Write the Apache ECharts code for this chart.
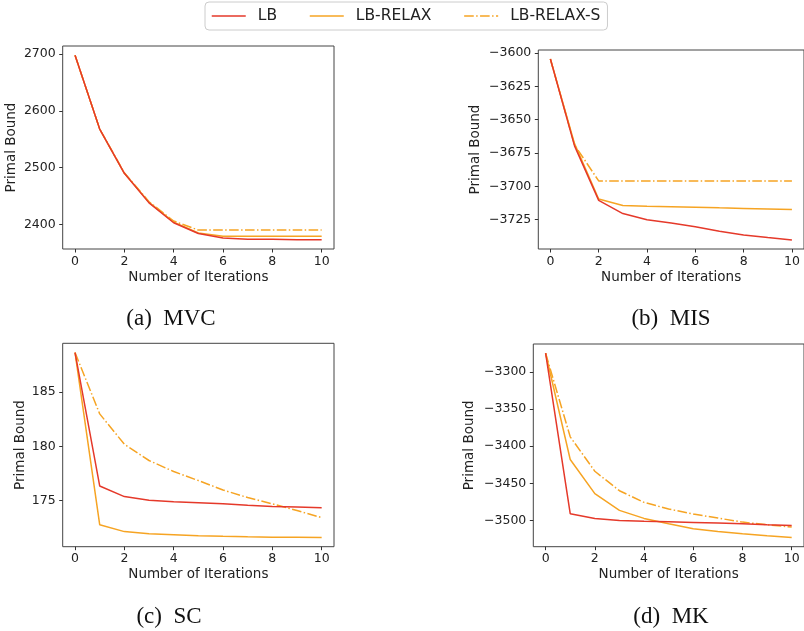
<!DOCTYPE html>
<html><head><meta charset="utf-8">
<script src="https://cdn.jsdelivr.net/npm/echarts@6/dist/echarts.min.js"></script>
<style>html,body{margin:0;padding:0;background:#fff}#c{width:804px;height:631px}</style>
</head><body><div id="c"></div>
<script>
const iterations = [0,1,2,3,4,5,6,7,8,9,10];
const seriesNames = ['LB','LB-RELAX','LB-RELAX-S'];

const mvcLB      = [2698,2568,2490,2438,2403,2384,2376,2374,2374,2373,2373];
const mvcRelax   = [2698,2568,2490,2439,2404,2385,2379,2379,2379,2379,2379];
const mvcRelaxS  = [2698,2568,2491,2440,2406,2390,2390,2390,2390,2390,2390];

const misLB      = [-3604.5,-3669.7,-3710.6,-3720.5,-3725.2,-3727.6,-3730.4,-3733.8,-3736.5,-3738.5,-3740.3];
const misRelax   = [-3604.5,-3668,-3709.6,-3714.5,-3715,-3715.3,-3715.7,-3716.2,-3716.6,-3717,-3717.5];
const misRelaxS  = [-3604.5,-3669,-3696,-3696,-3696,-3696,-3696,-3696,-3696,-3696,-3696];

const scLB       = [188.66,176.35,175.37,175.03,174.9,174.8,174.7,174.57,174.45,174.4,174.35];
const scRelax    = [188.66,172.78,172.14,171.95,171.86,171.75,171.7,171.66,171.63,171.62,171.6];
const scRelaxS   = [188.66,183.0,180.2,178.7,177.68,176.85,175.98,175.28,174.7,174.08,173.43];

const mkLB       = [-3274.8,-3491,-3497.3,-3500,-3501,-3501.8,-3502.7,-3503.6,-3504.5,-3505.9,-3506.8];
const mkRelax    = [-3274.8,-3418,-3464,-3486.5,-3497.3,-3504.5,-3511.3,-3514.9,-3518,-3520.7,-3523];
const mkRelaxS   = [-3274.8,-3387.4,-3433.8,-3460,-3475.7,-3484.7,-3491.4,-3496.8,-3502.3,-3505.9,-3509];

const xTicks   = [0,2,4,6,8,10];
const mvcTicks = [2400,2500,2600,2700];
const misTicks = [-3725,-3700,-3675,-3650,-3625,-3600];
const scTicks  = [175,180,185];
const mkTicks  = [-3500,-3450,-3400,-3350,-3300];

const captions = ['(a)\u2002MVC','(b)\u2002MIS','(c)\u2002SC','(d)\u2002MK'];
const xName = 'Number of Iterations';
const yName = 'Primal Bound';

const RED = '#e5392a', ORANGE = '#f6a423';
const panels = [
  {data:[mvcLB,mvcRelax,mvcRelaxS], ticks:mvcTicks, grid:{left:62.7,top:46,width:271.3,height:203}, yGap:44, cap:[171,319]},
  {data:[misLB,misRelax,misRelaxS], ticks:misTicks, grid:{left:538.3,top:50,width:268.2,height:199}, yGap:55.6, cap:[671,319]},
  {data:[scLB,scRelax,scRelaxS], ticks:scTicks, grid:{left:62.7,top:343.3,width:271.3,height:203.4}, yGap:35, cap:[169,617]},
  {data:[mkLB,mkRelax,mkRelaxS], ticks:mkTicks, grid:{left:533.3,top:344,width:271.7,height:202.7}, yGap:56.6, cap:[671,617]}
];

const fmt = v => String(v).replace('-', '\u2212');
const axisFont = {fontFamily:'DejaVu Sans', fontSize:12.5, color:'#222'};
const grids=[], xAxes=[], yAxes=[], series=[];
panels.forEach((p,i)=>{
  grids.push(Object.assign({show:true, borderColor:'#444', borderWidth:1, backgroundColor:'#fff'}, p.grid));
  const all = [].concat(...p.data);
  const lo = Math.min(...all), hi = Math.max(...all), m = (hi-lo)*0.05;
  xAxes.push({type:'value', gridIndex:i, min:-0.5, max:10.5, position:'bottom',
    axisLine:{show:false, onZero:false}, splitLine:{show:false},
    axisTick:{show:true, inside:false, length:3.5, lineStyle:{color:'#333', width:1}, customValues:xTicks},
    axisLabel:Object.assign({customValues:xTicks, margin:6, formatter:fmt}, axisFont),
    name:xName, nameLocation:'middle', nameGap:21,
    nameTextStyle:{fontFamily:'DejaVu Sans', fontSize:13.5, color:'#222'}});
  yAxes.push({type:'value', gridIndex:i, min:lo-m, max:hi+m, position:'left',
    axisLine:{show:false, onZero:false}, splitLine:{show:false},
    axisTick:{show:true, inside:false, length:3.5, lineStyle:{color:'#333', width:1}, customValues:p.ticks},
    axisLabel:Object.assign({customValues:p.ticks, margin:7, formatter:fmt}, axisFont),
    name:yName, nameLocation:'middle', nameGap:p.yGap,
    nameTextStyle:{fontFamily:'DejaVu Sans', fontSize:13.5, color:'#222'}});
  const styles = [
    {color:RED, width:1.5, type:'solid', z:5},
    {color:ORANGE, width:1.5, type:'solid', z:3},
    {color:ORANGE, width:1.5, type:[9.6,2.4,1.5,2.4], z:4}
  ];
  p.data.forEach((d,k)=>{
    series.push({type:'line', name:seriesNames[k], xAxisIndex:i, yAxisIndex:i,
      data:iterations.map((x,j)=>[x,d[j]]), symbol:'none', showSymbol:false,
      z:styles[k].z, animation:false,
      lineStyle:{color:styles[k].color, width:styles[k].width, type:styles[k].type},
      itemStyle:{color:styles[k].color}});
  });
});

const chart = echarts.init(document.getElementById('c'), null, {renderer:'canvas'});
chart.setOption({
  animation:false,
  backgroundColor:'#fff',
  legend:{data:seriesNames, left:205, top:2, padding:[6,7,6,6], itemWidth:34, itemHeight:14, itemGap:32,
    borderColor:'#ccc', borderWidth:1, borderRadius:4, backgroundColor:'#fff',
    itemStyle:{opacity:0}, lineStyle:{width:1.5},
    textStyle:{fontFamily:'DejaVu Sans', fontSize:15.5, color:'#222', padding:[0,0,0,7]}},
  grid:grids, xAxis:xAxes, yAxis:yAxes, series:series,
  graphic:panels.map((p,i)=>({type:'text', x:p.cap[0], y:p.cap[1], z:10,
    style:{text:captions[i], font:'23px "Liberation Serif"', fill:'#111', align:'center', verticalAlign:'middle'}}))
});
</script></body></html>
